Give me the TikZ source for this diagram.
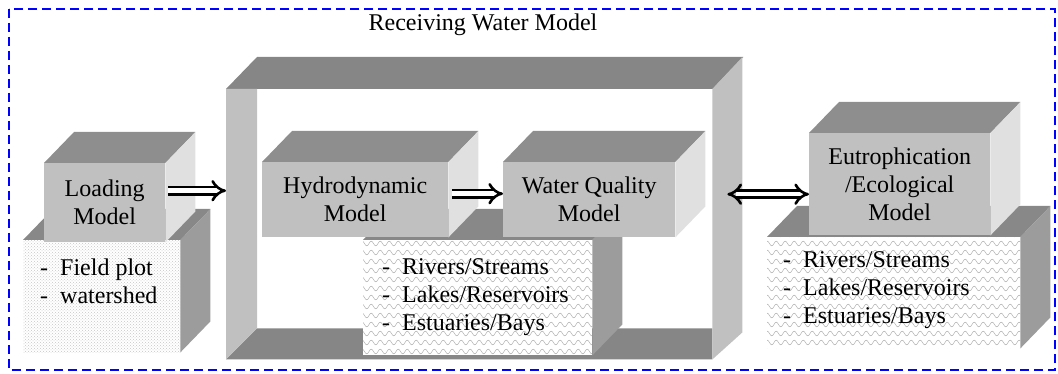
\documentclass[tikz,border=0pt]{standalone}
\usepackage{fontspec}
\setmainfont{Liberation Serif}
\usetikzlibrary{arrows.meta,calc,patterns}

\definecolor{facefront}{HTML}{C0C0C0}
\definecolor{facetop}{HTML}{8E8E8E}
\definecolor{faceside}{HTML}{E0E0E0}
\definecolor{slabtop}{HTML}{888888}
\definecolor{slabside}{HTML}{9C9C9C}
\definecolor{framegrey}{HTML}{C0C0C0}
\definecolor{frametop}{HTML}{868686}

% small wavy texture for the water lists
\pgfdeclarepatternformonly{ripples}{\pgfqpoint{-1pt}{-1pt}}{\pgfqpoint{10pt}{10pt}}{\pgfqpoint{9pt}{9pt}}{%
  \pgfsetlinewidth{0.5pt}
  \pgfpathmoveto{\pgfqpoint{0pt}{4.5pt}}
  \pgfpathcurveto{\pgfqpoint{1.5pt}{7.5pt}}{\pgfqpoint{3pt}{7.5pt}}{\pgfqpoint{4.5pt}{4.5pt}}
  \pgfpathcurveto{\pgfqpoint{6pt}{1.5pt}}{\pgfqpoint{7.5pt}{1.5pt}}{\pgfqpoint{9pt}{4.5pt}}
  \pgfusepath{stroke}
}

% top and right faces behind a front face node
\newcommand{\boxdepth}[3]{%
  \fill[#2] (#1.north west) -- ++(30,-31) -- ([shift={(30,-31)}]#1.north east) -- (#1.north east) -- cycle;
  \fill[#3] (#1.north east) -- ([shift={(30,-31)}]#1.north east) -- ([shift={(30,-31)}]#1.south east) -- (#1.south east) -- cycle;
}

\tikzset{
  modelbox/.style={anchor=north west, inner sep=0pt, fill=facefront, align=center},
  listbox/.style={anchor=north west, inner sep=0pt, preaction={fill=white}},
  listtext/.style={anchor=west, align=left, inner sep=0pt},
  flow/.style={double, double distance=4.5pt, line width=2.6pt, -{Implies}},
}

\begin{document}
\begin{tikzpicture}[x=1pt, y=-1pt, font=\fontsize{24}{28}\selectfont]
  \useasboundingbox (0,0) rectangle (1058,374);
  \draw[blue, dash pattern=on 9pt off 5pt, line width=1.5pt] (9,9) rectangle (1055,370);

  % receiving water model frame
  \node (rwm) at (226,89) [anchor=north west, inner sep=0pt, minimum width=486pt, minimum height=270pt] {};
  \node (rwmtitle) at (483,25) {Receiving Water Model};
  \fill[frametop] (rwm.north west) -- ++(31,-32) -- ([shift={(31,-32)}]rwm.north east) -- (rwm.north east) -- cycle;
  \fill[frametop] (rwm.south west) -- ++(31,-31) -- ([shift={(0,-31)}]rwm.south east) -- (rwm.south east) -- cycle;
  \fill[framegrey] (rwm.north west) -- ++(31,0) -- ([shift={(31,-31)}]rwm.south west) -- (rwm.south west) -- cycle;
  \fill[framegrey] (rwm.north east) -- ++(30,-32) -- ([shift={(30,-27)}]rwm.south east) -- (rwm.south east) -- cycle;

  % loading model
  \node (loadlist) at (23,240) [listbox, pattern=crosshatch dots, pattern color=gray!45, minimum width=157pt, minimum height=112pt] {};
  \boxdepth{loadlist}{slabtop}{slabside}
  \node (loadtxt) at (40,281) [listtext] {-\enspace Field plot\\-\enspace watershed};
  \node (loading) at (44,163) [modelbox, minimum width=121pt, minimum height=79pt] {Loading\\Model};
  \boxdepth{loading}{facetop}{faceside}

  % hydrodynamic and water quality
  \node (rivlist) at (363,240) [listbox, pattern=ripples, pattern color=gray!60, minimum width=229pt, minimum height=115pt] {};
  \boxdepth{rivlist}{slabtop}{slabside}
  \node (rivtxt) at (382,297) [listtext] {-\enspace Rivers/Streams\\-\enspace Lakes/Reservoirs\\-\enspace Estuaries/Bays};
  \node (hydro) at (262,162) [modelbox, minimum width=186pt, minimum height=75pt] {Hydrodynamic\\Model};
  \boxdepth{hydro}{facetop}{faceside}
  \node (wq) at (503,162) [modelbox, minimum width=172pt, minimum height=75pt] {Water Quality\\Model};
  \boxdepth{wq}{facetop}{faceside}

  % eutrophication
  \node (eutlist) at (767,237) [listbox, pattern=ripples, pattern color=gray!60, minimum width=253pt, minimum height=111pt] {};
  \boxdepth{eutlist}{slabtop}{slabside}
  \node (euttxt) at (783,290) [listtext] {-\enspace Rivers/Streams\\-\enspace Lakes/Reservoirs\\-\enspace Estuaries/Bays};
  \node (eutro) at (809,133) [modelbox, minimum width=181pt, minimum height=102pt] {Eutrophication\\/Ecological\\Model};
  \boxdepth{eutro}{facetop}{faceside}

  % arrows
  \coordinate (a1) at ([yshift=12pt]loading.east);
  \draw[flow] ([xshift=3pt]a1) -- (a1 -| rwm.west);
  \coordinate (a2) at ([yshift=6pt]hydro.east);
  \draw[flow] ([xshift=4pt]a2) -- (a2 -| wq.west);
  \coordinate (a3) at ([yshift=-10pt]eutro.west);
  \draw[flow, {Implies}-{Implies}] ($(a3 -| rwm.east)+(15,0)$) -- (a3);
\end{tikzpicture}
\end{document}
